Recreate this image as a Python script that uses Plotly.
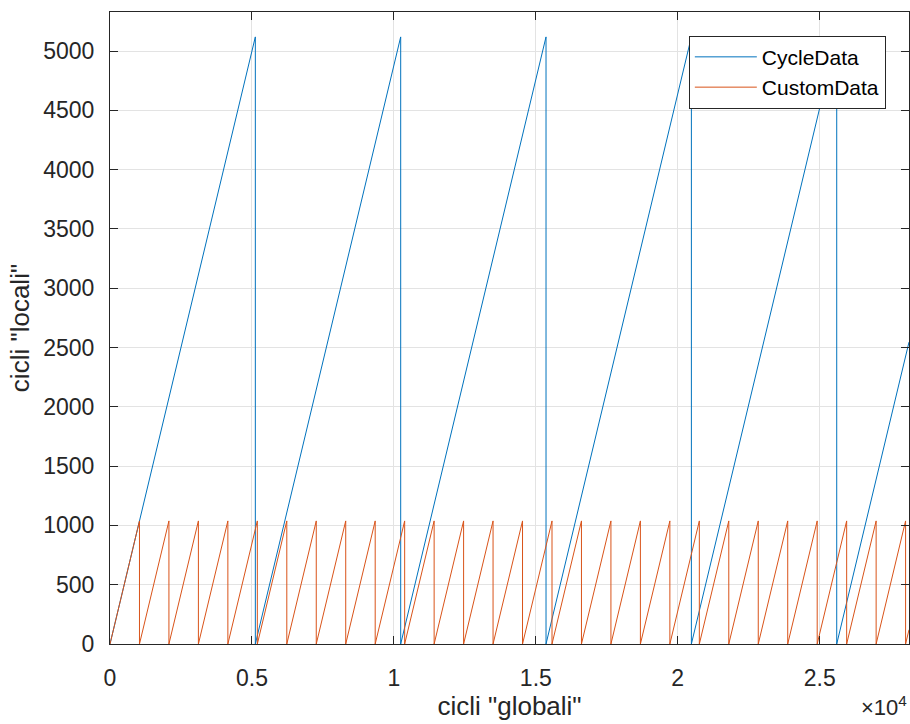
import plotly.graph_objects as go

# CycleData: sawtooth resets (global cycle at which local counter returns to 0)
cycle_resets = [5120, 10240, 15360, 20480, 25600]
cycle_peak = [5120, 5120, 5120, 5120, 5120]
# CustomData resets
custom_resets = [1038, 2076, 3114, 4152, 5190, 6228, 7266, 8304, 9342, 10380,
                 11418, 12456, 13494, 14532, 15570, 16608, 17646, 18684, 19722,
                 20760, 21798, 22836, 23874, 24912, 25950, 26988, 28026]
custom_peak = [1038] * len(custom_resets)
x_end = 28146
cycle_end_value = 2546
custom_end_value = 120

x_ticks = [0, 5000, 10000, 15000, 20000, 25000]
x_ticktext = ["0", "0.5", "1", "1.5", "2", "2.5"]
y_ticks = [0, 500, 1000, 1500, 2000, 2500, 3000, 3500, 4000, 4500, 5000]


def sawtooth(resets, peaks, end_x, end_val):
    xs, ys = [0], [0]
    for r, p in zip(resets, peaks):
        xs += [r, r]
        ys += [p, 0]
    xs.append(end_x)
    ys.append(end_val)
    return xs, ys


bx, by = sawtooth(cycle_resets, cycle_peak, x_end, cycle_end_value)
ox, oy = sawtooth(custom_resets, custom_peak, x_end, custom_end_value)

FONT = "Liberation Sans, Arial, Helvetica, sans-serif"
AX = "#262626"
GRID = "#e3e3e3"

fig = go.Figure()
fig.add_trace(go.Scatter(x=bx, y=by, mode="lines", name="CycleData",
                         line=dict(color="#0072BD", width=1)))
fig.add_trace(go.Scatter(x=ox, y=oy, mode="lines", name="CustomData",
                         line=dict(color="#D95319", width=1)))

fig.update_layout(
    width=910, height=724,
    margin=dict(l=110, r=1, t=12, b=80),
    paper_bgcolor="white", plot_bgcolor="white",
    font=dict(family=FONT, color=AX, size=23),
    showlegend=True,
    legend=dict(x=0.971, y=0.9625, xanchor="right", yanchor="top",
                bgcolor="white", bordercolor=AX, borderwidth=1,
                itemwidth=62,
                font=dict(size=21, color="black"), tracegroupgap=0),
    xaxis=dict(range=[0, x_end], tickmode="array", tickvals=x_ticks,
               ticktext=x_ticktext, ticks="inside", ticklen=8, tickwidth=1,
               tickcolor=AX, showline=True, linecolor=AX, linewidth=1,
               mirror="ticks", showgrid=True, gridcolor=GRID, gridwidth=1,
               zeroline=False, ticklabelstandoff=13,
               title=dict(text='cicli "globali"', font=dict(size=26, color=AX),
                          standoff=0)),
    yaxis=dict(range=[0, 5330], tickmode="array", tickvals=y_ticks,
               ticks="inside", ticklen=8, tickwidth=1, tickcolor=AX,
               showline=True, linecolor=AX, linewidth=1, mirror="ticks",
               showgrid=True, gridcolor=GRID, gridwidth=1, zeroline=False,
               ticklabelstandoff=10,
               title=dict(text='cicli "locali"', font=dict(size=26, color=AX),
                          standoff=6)),
)

fig.add_annotation(text="×10<sup>4</sup>", xref="paper", yref="paper",
                   x=1.0, y=-0.124, xanchor="right", yanchor="bottom",
                   showarrow=False, font=dict(size=22, color=AX))

fig.write_html("out.html")
